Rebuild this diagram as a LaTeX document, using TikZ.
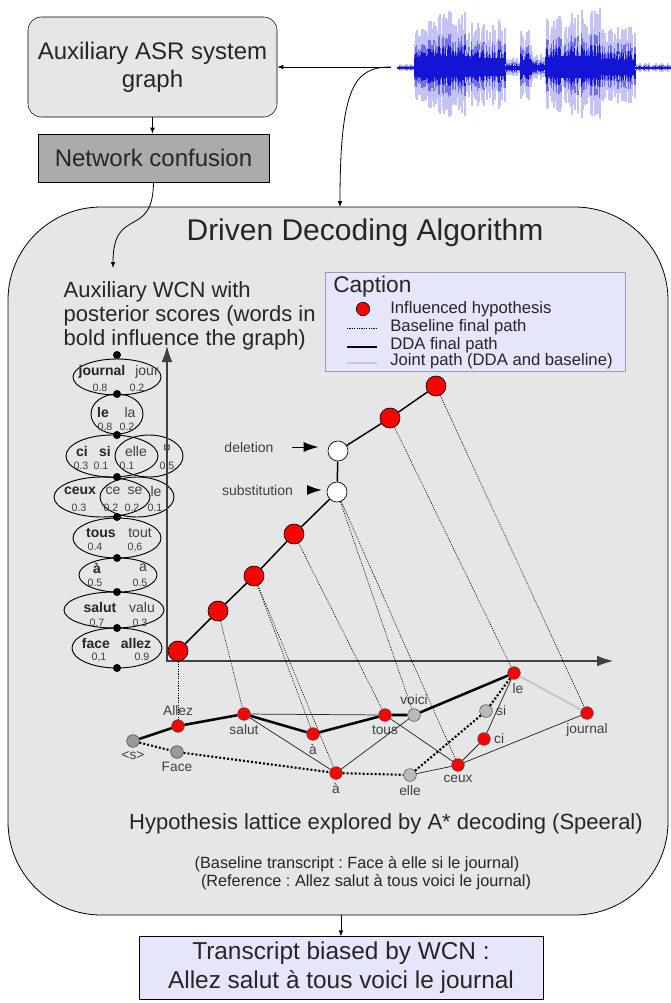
\documentclass[tikz,border=0pt]{standalone}
\usepackage{fontspec}
\setmainfont{Liberation Sans}
\usetikzlibrary{arrows.meta,positioning}
\frenchspacing

\definecolor{panel}{HTML}{E6E6E6}
\definecolor{ncgray}{HTML}{ABABAB}
\definecolor{lavender}{HTML}{E6E6FA}
\definecolor{capline}{HTML}{9A9AB8}
\definecolor{ink}{HTML}{262626}
\definecolor{soft}{HTML}{404040}
\definecolor{wavelight}{HTML}{C4C4F2}
\definecolor{wavemid}{HTML}{7070E8}
\definecolor{wavedark}{HTML}{1414D4}

\tikzset{
  box/.style={draw, align=center, text=ink, inner sep=2pt},
  hyp/.style={circle, draw, fill=red, line width=0.5pt, minimum size=15pt, inner sep=0pt},
  gap/.style={hyp, fill=white},
  lat/.style={circle, draw=black!70, fill=red, line width=0.4pt, minimum size=9.5pt, inner sep=0pt},
  latdark/.style={lat, fill=black!40},
  latlight/.style={lat, fill=black!27},
  wdot/.style={circle, fill=black, minimum size=6pt, inner sep=0pt},
  lbl/.style={font=\fontsize{10.3}{12}\selectfont, text=soft, inner sep=1pt},
  legend/.style={anchor=west, font=\fontsize{12.5}{14}\selectfont, text=ink, inner sep=0pt},
  wbold/.style={font=\bfseries\fontsize{10.5}{12}\selectfont, text=ink, inner sep=0pt},
  wnorm/.style={font=\fontsize{10.5}{12}\selectfont, text=soft, inner sep=0pt},
  wprob/.style={font=\fontsize{8}{10}\selectfont, text=soft, inner sep=0pt},
  feed/.style={-{Latex[length=4.5pt,width=3.5pt]}, line width=0.6pt},
  pointer/.style={-{Latex[length=11pt,width=7.5pt]}, line width=0.7pt},
  axis/.style={{Latex[length=12pt,width=8pt]}-{Latex[length=12pt,width=8pt]}, line width=0.8pt, draw=black!75},
  ddapath/.style={line width=1.9pt},
  basepath/.style={line width=1.6pt, dash pattern=on 1.5pt off 1.5pt},
  jointpath/.style={line width=1.6pt, draw=black!22},
  arc/.style={line width=0.55pt, draw=ink},
  proj/.style={line width=0.45pt, dash pattern=on 0.9pt off 0.9pt},
  wcn/.style={line width=0.7pt},
}

\begin{document}
\begin{tikzpicture}[x=0.75pt,y=-0.75pt, label distance=1.5pt]
\useasboundingbox (0,0) rectangle (671,1003);

% speech signal
\pgfmathsetseed{3}
\draw[wavemid, line width=0.4pt] (398,68) -- (671,68);
\foreach \a/\b/\h in {398/414/4, 415/428/40, 429/470/58, 471/505/48, 506/520/10,
    521/532/42, 533/545/14, 546/560/55, 561/600/60, 601/635/42, 636/671/5}{
  \foreach \x in {\a,...,\b}{
    \pgfmathsetmacro{\amp}{\h*(0.3+0.7*rnd)}
    \pgfmathsetmacro{\core}{max(0.4*\amp, 0.2*\h)}
    \draw[wavelight, line width=0.8pt] (\x,68-\amp) -- (\x,68+0.85*\amp);
    \draw[wavemid, line width=0.8pt] (\x,68-0.6*\amp) -- (\x,68+0.5*\amp);
    \draw[wavedark, line width=0.8pt] (\x,68-\core) -- (\x,68+0.8*\core);
  }
}
\coordinate (wave) at (391,67);

% auxiliary system
\node[box, rounded corners=10pt, fill=panel, minimum width=186.75pt, minimum height=75pt,
      font=\fontsize{18}{21}\selectfont] (asr) at (152.5,67) {Auxiliary ASR system\\graph};
\node[box, fill=ncgray, minimum width=173.25pt, minimum height=36pt,
      font=\fontsize{18}{21}\selectfont] (nc) at (153.5,158) {Network confusion};
\draw[feed] (asr.south) -- (asr.south |- nc.north);
\draw[feed] (wave) -- (asr.east);

% main panel
\node[draw, fill=panel, rounded corners=70pt, minimum width=495pt, minimum height=531pt,
      line width=0.6pt] (dda) at (338,561) {};
\coordinate (ddain) at (340,207);
\draw[feed] (wave) .. controls (355,67) and (340,85) .. (ddain);
\node[font=\fontsize{22.5}{26}\selectfont, text=ink] (title) at (365,233) {Driven Decoding Algorithm};

\node[anchor=west, align=left, font=\fontsize{16.5}{18}\selectfont, text=ink] (wcntxt) at (59,316)
  {Auxiliary WCN with\\posterior scores (words in\\bold influence the graph)};
\coordinate (wcnin) at (113,268);
\draw[feed] (nc.south) .. controls (153,240) and (113,205) .. (wcnin);

% caption
\node[draw=capline, fill=lavender, minimum width=225pt, minimum height=74pt] (cap) at (475,322) {};
\node[anchor=west, font=\fontsize{17}{20}\selectfont, text=ink, inner sep=0pt] (captitle) at (333,287) {Caption};
\node[hyp, minimum size=10pt] (legdot) at (363,309) {};
\node[legend] (leg1) at (390,309) {Influenced hypothesis};
\node[legend] (leg2) at (390,327) {Baseline final path};
\node[legend] (leg3) at (390,345) {DDA final path};
\node[legend] (leg4) at (390,361) {Joint path (DDA and baseline)};
\draw[proj, line width=0.6pt] (347,328) -- (377,328);
\draw[line width=1.4pt] (347,347) -- (377,347);
\draw[jointpath, line width=1.2pt] (347,363) -- (377,363);

% confusion network
\foreach \cx/\cy/\rx/\ry in {117/377/44/18, 117/414/26/20, 112/456/46/21, 149/456/34/21,
    102/497/48/20, 137/497/37/20, 117/538/44/20, 118/575/39/17, 114/610/50/18, 117/648/45/20}
  \draw[wcn] (\cx,\cy) ellipse [x radius=\rx, y radius=\ry];
\foreach \y [count=\i from 0] in {355,394,435,477,517,558,592,628,668}
  \node[wdot] (w\i) at (117,\y) {};

\node[wbold] at (102,372) {journal};
\node[wnorm] at (147,372) {jour};
\node[wprob] at (100,388) {0.8};
\node[wprob] at (137,388) {0.2};
\node[wbold] at (103,412) {le};
\node[wnorm] at (130,412) {la};
\node[wprob] at (105,427) {0.8};
\node[wprob] at (127,427) {0.2};
\node[wbold] at (82,451) {ci};
\node[wbold] at (105,451) {si};
\node[wnorm] at (136,451) {elle};
\node[wnorm] at (167,449) {¤};
\node[wprob] at (81,466) {0.3};
\node[wprob] at (101,466) {0.1};
\node[wprob] at (127,466) {0.1};
\node[wprob] at (167,466) {0.5};
\node[wbold] at (80,491) {ceux};
\node[wnorm] at (113,491) {ce};
\node[wnorm] at (135,491) {se};
\node[wnorm] at (156,491) {le};
\node[wprob] at (79,508) {0.3};
\node[wprob] at (111,508) {0.2};
\node[wprob] at (132,508) {0.2};
\node[wprob] at (155,508) {0.1};
\node[wbold] at (101,533) {tous};
\node[wnorm] at (140,533) {tout};
\node[wprob] at (95,547) {0.4};
\node[wprob] at (135,547) {0,6};
\node[wbold] at (97,568) {à};
\node[wnorm] at (143,568) {a};
\node[wprob] at (95,583) {0.5};
\node[wprob] at (140,583) {0.5};
\node[wbold] at (100,607) {salut};
\node[wnorm] at (142,607) {valu};
\node[wprob] at (97,623) {0.7};
\node[wprob] at (140,623) {0.3};
\node[wbold] at (96,643) {face};
\node[wbold] at (136,643) {allez};
\node[wprob] at (99,657) {0,1};
\node[wprob] at (142,657) {0.9};

% search space
\coordinate (ytip) at (167,346);
\coordinate (xtip) at (613,661);
\draw[axis] (ytip) |- (xtip);

\node[hyp] (p1) at (178,651) {};
\node[hyp] (p2) at (218,611) {};
\node[hyp] (p3) at (254,576) {};
\node[hyp] (p4) at (294,534) {};
\node[gap] (p5) at (337,492) {};
\node[gap] (p6) at (338,451) {};
\node[hyp] (p7) at (390,418) {};
\node[hyp] (p8) at (436,386) {};
\draw[line width=1.1pt] (p1) -- (p2) -- (p3) -- (p4) -- (p5) -- (p6) -- (p7) -- (p8);

\node[lbl, font=\fontsize{10.5}{12}\selectfont] (dellbl) at (249,447) {deletion};
\node[lbl, font=\fontsize{10.5}{12}\selectfont] (sublbl) at (257.5,490) {substitution};
\draw[pointer] ([xshift=13pt]dellbl.east) -- ([xshift=-7pt]dellbl.east -| p6.west);
\draw[pointer] ([xshift=9pt]sublbl.east) -- ([xshift=-3.75pt]sublbl.east -| p5.west);

% lattice
\node[latdark, label={[lbl]below:\textless s\textgreater}] (s) at (133,741) {};
\node[latdark, label={[lbl]below:Face}] (face) at (177,752) {};
\node[lat, label={[lbl]above:Allez}] (allez) at (178,726) {};
\node[lat, label={[lbl]below:salut}] (salut) at (244,714) {};
\node[lat, label={[lbl]below:à}] (a1) at (313,734) {};
\node[lat, label={[lbl]below:à}] (a2) at (336,773) {};
\node[lat, label={[lbl]below:tous}] (tous) at (385,715) {};
\node[latlight, label={[lbl]above:voici}] (voici) at (414,715) {};
\node[latlight, label={[lbl]below:elle}] (elle) at (410,775) {};
\node[lat, label={[lbl]below:ceux}] (ceux) at (458,765) {};
\node[lat, label={[lbl]right:ci}] (ci) at (484,739) {};
\node[latlight, label={[lbl]right:si}] (si) at (486,711) {};
\node[lat, label={[lbl, xshift=3pt]below:le}] (le) at (514,673) {};
\node[lat, label={[lbl]below:journal}] (journal) at (587,713) {};

\draw[arc] (salut) -- (tous);
\draw[arc] (salut) -- (a2);
\draw[arc] (a2) -- (voici);
\draw[arc] (tous) -- (ceux);
\draw[arc] (elle) -- (ceux) -- (ci) -- (le);
\draw[arc] (ceux) -- (journal);
\draw[ddapath] (s) -- (allez) -- (salut) -- (a1) -- (tous) -- (voici) -- (le);
\draw[jointpath] (le) -- (journal);
\draw[basepath] (s) -- (face) -- (a2) -- (elle) -- (si) -- (le);

\foreach \a/\b in {p1/allez, p2/salut, p3/a1, p3/a2, p4/tous, p5/voici, p5/ceux, p7/le, p8/journal}
  \draw[proj] (\a) -- (\b);

\node[font=\fontsize{16.5}{19}\selectfont, text=ink] (latcap) at (386,824)
  {Hypothesis lattice explored by A* decoding (Speeral)};
\node[font=\fontsize{12.2}{14.5}\selectfont, text=ink] (basetxt) at (357,864)
  {(Baseline transcript : Face à elle si le journal)};
\node[font=\fontsize{12.2}{14.5}\selectfont, text=ink] (reftxt) at (366,882)
  {(Reference : Allez salut à tous voici le journal)};

% output
\node[box, fill=lavender, minimum width=303pt, minimum height=47pt,
      font=\fontsize{18.3}{21.5}\selectfont] (tr) at (341,968)
  {Transcript biased by WCN :\\Allez salut à tous voici le journal};
\draw[feed] (dda.south -| tr.north) -- (tr.north);
\end{tikzpicture}
\end{document}
